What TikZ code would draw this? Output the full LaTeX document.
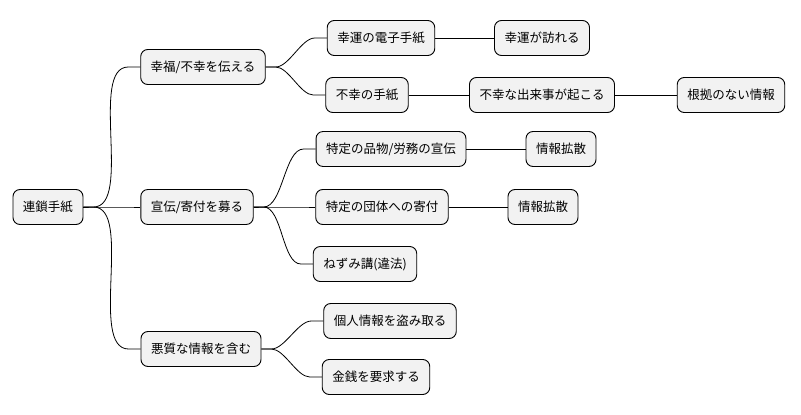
\documentclass[tikz,border=0pt]{standalone}
\usepackage{fontspec}
\setmainfont{Noto Sans CJK JP}
\begin{document}
\begin{tikzpicture}[x=1pt,y=-1pt,
 box/.style={draw=black,line width=0.9pt,fill=black!5,rounded corners=7pt,minimum height=35pt,inner xsep=10pt,font=\fontsize{12.5}{15}\selectfont},
 con/.style={line width=0.8pt}]
\useasboundingbox (0,0) rectangle (801,415);
\node[box] (root) at (48,207) {連鎖手紙};
\node[box] (a) at (203,67) {幸福/不幸を伝える};
\node[box] (b) at (197,207) {宣伝/寄付を募る};
\node[box] (c) at (201,349) {悪質な情報を含む};
\node[box] (a1) at (381,38) {幸運の電子手紙};
\node[box] (a1x) at (542,38) {幸運が訪れる};
\node[box] (a2) at (367,95) {不幸の手紙};
\node[box] (a2x) at (542,95) {不幸な出来事が起こる};
\node[box] (a2y) at (731,95) {根拠のない情報};
\node[box] (b1) at (391,149) {特定の品物/労務の宣伝};
\node[box] (b1x) at (561,149) {情報拡散};
\node[box] (b2) at (382,207) {特定の団体への寄付};
\node[box] (b2x) at (543,207) {情報拡散};
\node[box] (b3) at (365,264) {ねずみ講(違法)};
\node[box] (c1) at (390,321) {個人情報を盗み取る};
\node[box] (c2) at (376,377) {金銭を要求する};
\foreach \p/\c in {root/a,root/b,root/c,a/a1,a/a2,b/b1,b/b2,b/b3,c/c1,c/c2}
  \draw[con] (\p.east) -- ++(10,0) to[out=0,in=180,looseness=0.7] ([xshift=-12]\c.west) -- (\c.west);
\foreach \p/\c in {a1/a1x,a2/a2x,a2x/a2y,b1/b1x,b2/b2x}
  \draw[con] (\p.east) -- (\c.west);
\end{tikzpicture}
\end{document}
